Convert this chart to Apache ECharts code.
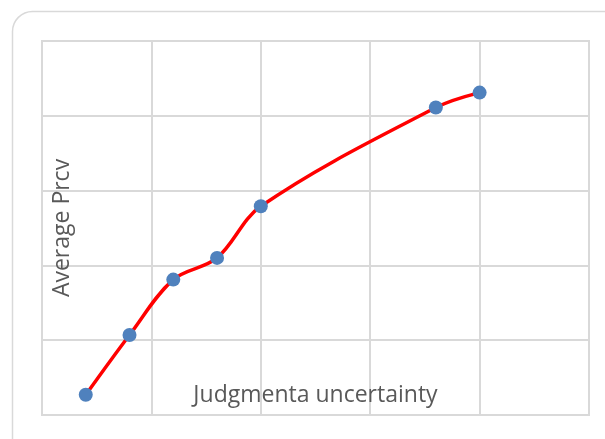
<!DOCTYPE html>
<html>
<head>
<meta charset="utf-8">
<script src="https://cdn.jsdelivr.net/npm/echarts@6/dist/echarts.min.js"></script>
<style>
html,body{margin:0;padding:0;background:#fff;}
#chart{width:605px;height:439px;}
</style>
</head>
<body>
<div id="chart"></div>
<script>
// Data (axes have no tick labels; unitless gridline scale 0..5)
var xValues = [0.4, 0.8, 1.2, 1.6, 2.0, 3.6, 4.0];
var yValues = [0.27, 1.07, 1.81, 2.10, 2.79, 4.11, 4.31];
var xTitle = 'Judgmenta uncertainty';
var yTitle = 'Average Prcv';

var points = xValues.map(function (x, i) { return [x, yValues[i]]; });
var gridColor = '#d9d9d9';
var textColor = '#595959';
var font = 'Open Sans';

var chart = echarts.init(document.getElementById('chart'), null, {renderer: 'canvas'});
chart.setOption({
  backgroundColor: '#ffffff',
  animation: false,
  graphic: [{
    type: 'rect',
    silent: true,
    shape: {x: 12.5, y: 11.5, width: 620, height: 460, r: 20},
    style: {fill: 'none', stroke: '#d9d9d9', lineWidth: 1.5},
    z: -1
  }],
  grid: {
    left: 42, top: 41, right: 16, bottom: 24,
    show: true, borderColor: gridColor, borderWidth: 2, backgroundColor: 'transparent'
  },
  xAxis: {
    type: 'value', min: 0, max: 5, interval: 1,
    axisLine: {show: false}, axisTick: {show: false}, axisLabel: {show: false},
    splitLine: {show: true, lineStyle: {color: gridColor, width: 2}},
    name: xTitle, nameLocation: 'middle', nameGap: -19.5,
    nameTextStyle: {color: textColor, fontFamily: font, fontSize: 23, verticalAlign: 'middle'}
  },
  yAxis: {
    type: 'value', min: 0, max: 5, interval: 1,
    axisLine: {show: false}, axisTick: {show: false}, axisLabel: {show: false},
    splitLine: {show: true, lineStyle: {color: gridColor, width: 2}},
    name: yTitle, nameLocation: 'middle', nameGap: -20,
    nameTextStyle: {color: textColor, fontFamily: font, fontSize: 23, verticalAlign: 'middle', align: 'center'}
  },
  series: [{
    type: 'line',
    data: points,
    smooth: 0.35,
    symbol: 'circle',
    symbolSize: 14,
    lineStyle: {color: '#ff0000', width: 3.5},
    itemStyle: {color: '#4f81bd', borderWidth: 0},
    z: 3
  }]
});
</script>
</body>
</html>
